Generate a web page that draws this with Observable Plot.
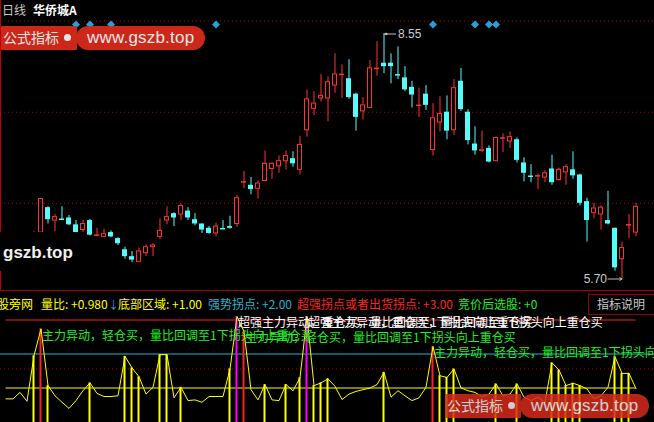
<!DOCTYPE html>
<html><head><meta charset="utf-8">
<script src="https://cdn.jsdelivr.net/npm/d3@7"></script>
<script src="https://cdn.jsdelivr.net/npm/@observablehq/plot@0.6"></script>
<style>
html,body{margin:0;padding:0;background:#000;}
#wrap{position:relative;width:654px;height:422px;background:#000;overflow:hidden;font-family:"Noto Sans CJK SC","Noto Sans",sans-serif;}
.abs{position:absolute;white-space:nowrap;line-height:1;}
</style></head><body><div id="wrap"></div>
<script>
// ---------------- data ----------------
const stockName = "华侨城A";
const period = "日线";
const candleOpen  = [6.16,6.24,6.53,6.38,6.40,6.41,6.33,6.27,6.38,6.21,6.19,6.24,6.17,6.04,5.96,5.90,6.00,6.07,6.19,6.38,6.46,6.45,6.49,6.39,6.34,6.29,6.23,6.29,6.31,6.34,6.83,6.79,6.75,6.84,6.98,7.01,7.07,7.10,6.97,7.43,7.68,7.80,7.80,7.95,8.08,8.03,7.85,7.65,7.69,8.15,8.21,8.21,8.08,8.04,7.93,7.72,7.85,7.20,7.52,7.64,7.43,8.00,7.64,7.27,7.20,7.22,7.07,7.34,7.30,7.32,7.05,6.90,6.90,6.88,6.98,6.85,6.94,6.97,6.91,6.60,6.47,6.45,6.38,6.29,5.93,6.33,6.24];
const candleHigh  = [6.25,6.64,6.54,6.45,6.54,6.44,6.38,6.38,6.39,6.29,6.28,6.26,6.18,6.07,6.02,6.06,6.10,6.11,6.40,6.54,6.47,6.57,6.53,6.46,6.34,6.31,6.35,6.38,6.43,6.67,6.95,6.88,6.84,7.19,7.05,7.13,7.19,7.18,7.36,7.90,7.88,8.08,8.05,8.32,8.19,8.25,7.86,7.81,8.24,8.46,8.55,8.32,8.40,8.17,8.00,7.92,7.95,7.74,7.82,7.83,8.02,8.15,7.67,7.47,7.42,7.25,7.35,7.39,7.41,7.34,7.11,7.03,6.92,6.96,7.14,6.99,7.03,7.18,6.92,6.64,6.58,6.55,6.72,6.29,6.13,6.45,6.58];
const candleLow   = [6.12,6.24,6.34,6.25,6.38,6.32,6.24,6.24,6.20,6.19,6.19,6.18,6.09,5.93,5.89,5.90,5.96,5.96,6.16,6.33,6.31,6.38,6.38,6.32,6.23,6.22,6.19,6.28,6.28,6.30,6.75,6.68,6.63,6.83,6.86,6.93,6.97,7.00,6.91,7.35,7.60,7.76,7.53,7.86,7.80,7.79,7.42,7.55,7.69,8.06,8.09,7.97,8.02,7.88,7.69,7.58,7.66,7.13,7.41,7.32,7.37,7.65,7.26,7.14,7.17,7.05,7.07,7.17,7.22,7.05,6.83,6.82,6.74,6.82,6.79,6.84,6.79,6.86,6.55,6.13,6.40,6.27,6.33,5.79,5.70,6.17,6.19];
const candleClose = [6.22,6.63,6.39,6.42,6.39,6.33,6.24,6.34,6.21,6.21,6.22,6.19,6.11,5.96,5.92,6.02,6.07,6.09,6.26,6.42,6.41,6.55,6.41,6.34,6.27,6.23,6.31,6.28,6.29,6.64,6.83,6.74,6.81,7.04,7.04,7.07,7.13,7.04,7.26,7.79,7.74,7.83,7.99,8.08,8.08,7.81,7.58,7.72,8.15,8.15,8.17,8.17,8.07,7.90,7.84,7.72,7.72,7.57,7.62,7.42,7.92,7.67,7.31,7.19,7.20,7.06,7.34,7.34,7.35,7.08,6.93,6.89,6.90,6.93,6.82,6.97,7.00,6.90,6.58,6.38,6.52,6.53,6.34,5.83,6.06,6.33,6.54];
const signalDays = [6, 8, 11, 26, 57, 63, 65, 66];
const priceGrid = [8.70, 7.64, 6.58];

const ratioStart = -4;
const volumeRatio = [0.68,0.68,0.87,0.61,
  1.95,2.74,1.07,0.77,0.58,0.40,0.63,0.92,1.15,0.84,0.75,0.75,0.77,1.93,1.59,1.33,0.82,1.02,1.98,1.98,0.71,1.02,0.63,0.65,0.58,0.75,0.75,0.75,1.56,3.10,2.66,0.95,0.65,1.10,0.65,0.63,1.10,0.92,1.30,3.10,1.07,1.15,1.27,1.05,0.66,0.82,0.90,0.95,1.00,1.10,1.46,0.73,0.92,0.77,0.63,0.71,1.02,2.22,1.36,1.31,1.56,1.00,0.92,0.87,0.75,0.82,1.12,0.77,0.82,1.12,0.73,0.63,0.73,0.58,1.74,1.53,1.07,1.14,1.07,0.97,0.68,0.77,1.02,1.92,1.43,1.43,0.98];
const yellowBarDays = [0,2,8,13,14,15,18,19,21,28,33,36,38,40,41,42,50,58,59,60,66,69,74,75,76,77,78,83,84,85];
const redBarDays = [1, 30, 57];
const magentaBarDays = [29, 39];
const levelBottom = 1.00, levelStrong = 2.00, levelSuper = 3.00, auctionPick = 0;
const ratioGrid = [1.56];
const greenLabelDays = [1, 30, 57];
const whiteLabelDays = [29, 39];
const greenLabel = "主力异动，轻仓买，量比回调至1下拐头向上重仓买";
const whiteLabel = "超强主力异动，重仓买，量比回调至1下拐头向上重仓买";

// ---------------- build ----------------
const RED = "#ff3232", CYAN = "#54fcfc";
const wrap = document.getElementById("wrap");
const candles = candleOpen.map((o, k) => ({i: k, o, h: candleHigh[k], l: candleLow[k], c: candleClose[k]}));
const isUp = d => d.c >= d.o;
const isDoji = d => Math.abs(d.c - d.o) < 0.0175;
const X = {domain: [0, 86], range: [33.5, 635.5], axis: null};
const hiIdx = d3.maxIndex(candleHigh), loIdx = d3.minIndex(candleLow);
const diamond = {draw(ctx, size) { const r = Math.sqrt(size / Math.PI); ctx.moveTo(0, -r); ctx.lineTo(r, 0); ctx.lineTo(0, r); ctx.lineTo(-r, 0); ctx.closePath(); }};

const topPlot = Plot.plot({
  width: 654, height: 291, margin: 0,
  style: {background: "transparent"},
  x: X,
  y: {domain: [5.70, 8.55], range: [278.5, 33.5], axis: null},
  marks: [
    Plot.ruleY(priceGrid, {stroke: "#b00000", strokeDasharray: "1,3"}),
    Plot.ruleX(candles.filter(isUp), {x: "i", y1: "l", y2: "h", stroke: RED}),
    Plot.ruleX(candles.filter(d => !isUp(d)), {x: "i", y1: "l", y2: "h", stroke: CYAN}),
    Plot.rect(candles.filter(d => isUp(d) && !isDoji(d)), {x1: d => d.i - 2/7, x2: d => d.i + 2/7, y1: "o", y2: "c", fill: "#000", stroke: RED}),
    Plot.rect(candles.filter(d => !isUp(d) && !isDoji(d)), {x1: d => d.i - 2.5/7, x2: d => d.i + 2.5/7, y1: "c", y2: "o", fill: CYAN}),
    Plot.ruleY(candles.filter(d => isDoji(d) && isUp(d)), {y: d => (d.o + d.c) / 2, x1: d => d.i - 2.5/7, x2: d => d.i + 2.5/7, stroke: RED, strokeWidth: 1.5}),
    Plot.ruleY(candles.filter(d => isDoji(d) && !isUp(d)), {y: d => (d.o + d.c) / 2, x1: d => d.i - 2.5/7, x2: d => d.i + 2.5/7, stroke: CYAN, strokeWidth: 1.5}),
    Plot.dot(signalDays, {x: d => d, frameAnchor: "top", dy: 24, symbol: diamond, r: 4, fill: "#2b9fd5", stroke: null}),
    Plot.ruleY([hiIdx], {x1: d => d, x2: d => d + 1.8, y: d => candleHigh[d], stroke: "#c0c0c0"}),
    Plot.dot([hiIdx], {x: d => d + 0.3, y: d => candleHigh[d], r: 1.3, fill: "#c0c0c0", stroke: null}),
    Plot.text([hiIdx], {x: d => d + 1.8, y: d => candleHigh[d], text: d => candleHigh[d].toFixed(2), textAnchor: "start", dx: 1.5, fill: "#c8ccd4", fontSize: 12, fontFamily: "Liberation Sans, Arial, sans-serif"}),
    Plot.arrow([loIdx], {x1: d => d - 2, x2: d => d, y1: d => candleLow[d], y2: d => candleLow[d], stroke: "#c0c0c0", headLength: 4, strokeWidth: 1}),
    Plot.text([loIdx], {x: d => d - 2, y: d => candleLow[d], text: d => candleLow[d].toFixed(2), textAnchor: "end", dx: -1, fill: "#c8ccd4", fontSize: 12, fontFamily: "Liberation Sans, Arial, sans-serif"})
  ]
});

const ratioOf = d => volumeRatio[d - ratioStart];
const ratioRows = volumeRatio.map((v, k) => ({i: k + ratioStart, v}));
const lastDay = candles.length - 1;
const labelFont = {fontSize: 12, fontFamily: "Noto Sans CJK SC, sans-serif", textAnchor: "start", dy: 7, dx: 1};
const botPlot = Plot.plot({
  width: 654, height: 131, margin: 0,
  style: {background: "transparent"},
  x: X,
  y: {domain: [0, 3], range: [130.5, 28.5], axis: null},
  marks: [
    Plot.ruleY(ratioGrid, {stroke: "#b00000", strokeDasharray: "1,3"}),
    Plot.ruleY([levelStrong], {stroke: "#28b4c8"}),
    Plot.ruleY([levelSuper], {x1: ratioStart, x2: lastDay, stroke: "#ff2020"}),
    Plot.ruleY([levelBottom], {x1: ratioStart, x2: lastDay, stroke: "#ffff00"}),
    Plot.ruleX(yellowBarDays, {x: d => d, y1: -0.05, y2: ratioOf, stroke: "#ffff00", strokeWidth: 2, dx: -0.5}),
    Plot.ruleX(redBarDays, {x: d => d, y1: -0.05, y2: ratioOf, stroke: "#ff2020", strokeWidth: 2, dx: -0.5}),
    Plot.ruleX(magentaBarDays, {x: d => d, y1: -0.05, y2: ratioOf, stroke: "#ff00ff", strokeWidth: 2, dx: -0.5}),
    Plot.line(ratioRows, {x: "i", y: "v", stroke: "#ffff00", strokeWidth: 1}),
    Plot.text(whiteLabelDays, {x: d => d, y: ratioOf, text: () => whiteLabel, fill: "#ffffff", ...labelFont}),
    Plot.text(greenLabelDays, {x: d => d, y: ratioOf, text: () => greenLabel, fill: "#22ee22", ...labelFont})
  ]
});

function place(el, top) { el.style.position = "absolute"; el.style.left = "0px"; el.style.top = top + "px"; wrap.appendChild(el); }
place(topPlot, 0);
place(botPlot, 291);

function box(left, top, w, h, css) {
  const d = document.createElement("div");
  d.className = "abs";
  Object.assign(d.style, {left: left + "px", top: top + "px", width: w + "px", height: h + "px"}, css || {});
  wrap.appendChild(d); return d;
}
function label(txt, left, cy, color, size, css) {
  const d = document.createElement("div");
  d.className = "abs"; d.textContent = txt;
  Object.assign(d.style, {left: left + "px", top: (cy - size / 2) + "px", color, fontSize: size + "px"}, css || {});
  wrap.appendChild(d); return d;
}

// frame lines
box(0, 0, 1, 291, {background: "#c00000"});
box(0, 290, 654, 1, {background: "#a00000"});

// title
label(period, 2, 10, "#c8c8c8", 12);
label(stockName, 33, 10, "#ffffff", 12, {fontWeight: "bold"});

// watermark box on left
box(0, 232, 76, 39, {background: "#000"});
label("gszb.top", 3, 252, "#f0f0f0", 17, {fontWeight: "bold", fontFamily: "Liberation Sans, Arial, sans-serif"});

// red badge watermarks
function badge(x, y, alpha) {
  const g = box(x, y, 205, 25, {opacity: alpha});
  const a = document.createElement("div"); a.className = "abs";
  Object.assign(a.style, {left: "0px", top: "0px", width: "76px", height: "24px", background: "#d62b1c", borderRadius: "1px"});
  const t = document.createElement("div"); t.className = "abs"; t.textContent = "公式指标";
  Object.assign(t.style, {left: "2px", top: "4px", fontSize: "14px", color: "#f4f4f4"});
  const dot = document.createElement("div"); dot.className = "abs";
  Object.assign(dot.style, {left: "63px", top: "8px", width: "7px", height: "7px", borderRadius: "50%", background: "#f4f4f4"});
  const p = document.createElement("div"); p.className = "abs";
  Object.assign(p.style, {left: "75px", top: "0px", width: "129px", height: "24px", borderRadius: "12px", background: "#d62b1c"});
  const u = document.createElement("div"); u.className = "abs"; u.textContent = "www.gszb.top";
  Object.assign(u.style, {left: "86px", top: "3px", fontSize: "17px", color: "#f4f4f4", fontFamily: "Liberation Sans, Arial, sans-serif", letterSpacing: "0.2px"});
  g.append(a, p, t, dot, u);
}
badge(1, 26, 0.95);
badge(445, 394, 0.85);

// indicator header
const headerTexts = ["股旁网", `量比: +${volumeRatio[volumeRatio.length - 1].toFixed(3)}`, "↓", `底部区域: +${levelBottom.toFixed(2)}`, `强势拐点: +${levelStrong.toFixed(2)}`, `超强拐点或者出货拐点: +${levelSuper.toFixed(2)}`, `竞价后选股: +${auctionPick}`];
const headerColors = ["#ffff00", "#ffff00", "#5a8ed0", "#ffff00", "#28b4c8", "#ff2020", "#22ee22"];
const headerLeft = [-3, 41, 108, 118, 208, 297, 458];
headerTexts.forEach((t, k) => label(t, headerLeft[k], 304, headerColors[k], k === 2 ? 11 : 12));
box(588, 294, 65, 19, {border: "1px solid #900000"});
label("指标说明", 597, 304, "#c8c8c8", 12);
</script></body></html>
